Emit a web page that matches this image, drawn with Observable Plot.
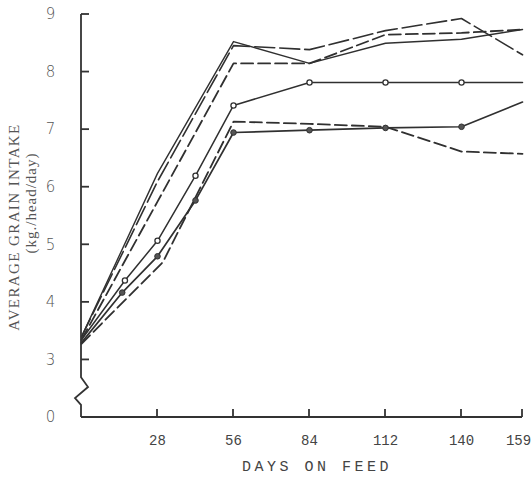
<!DOCTYPE html>
<html>
<head>
<meta charset="utf-8">
<script src="https://cdn.jsdelivr.net/npm/d3@7"></script>
<script src="https://cdn.jsdelivr.net/npm/@observablehq/plot@0.6"></script>
<style>
  html, body { margin: 0; padding: 0; background: #fff; }
  #chart { width: 532px; height: 481px; }
</style>
</head>
<body>
<div id="chart"></div>
<script>
// ---- data ----
const xTicks = [28, 56, 84, 112, 140, 159];
const yTicks = [2, 3, 4, 5, 6, 7, 8, 9];        // 2 is drawn as the broken-axis "0"
const yTickLabels = ["0", "3", "4", "5", "6", "7", "8", "9"];

const daysA   = [0, 16, 28, 42, 56, 84, 112, 140, 159];
const valuesA = [3.35, 4.38, 5.07, 6.20, 7.42, 7.82, 7.82, 7.82, 7.82];   // solid, open circles

const daysB   = [0, 15, 28, 42, 56, 84, 112, 140, 159];
const valuesB = [3.30, 4.17, 4.80, 5.77, 6.95, 6.99, 7.03, 7.05, 7.48];   // solid, filled circles

const daysC   = [0, 30, 56, 84, 112, 140, 159];
const valuesC = [3.28, 4.70, 7.14, 7.10, 7.05, 6.62, 6.58];               // dashed (lower)

const daysD   = [0, 28, 56, 84, 112, 140, 159];
const valuesD = [3.40, 6.24, 8.53, 8.15, 8.50, 8.57, 8.74];               // solid (upper)

const daysE   = [0, 28, 56, 84, 112, 140, 159];
const valuesE = [3.35, 5.75, 8.15, 8.15, 8.65, 8.68, 8.74];               // dashed (upper)

const daysF   = [0, 28, 56, 84, 112, 140, 159];
const valuesF = [3.40, 6.10, 8.46, 8.39, 8.72, 8.93, 8.30];               // long dash (top)

const xLabel = "DAYS ON FEED";
const yLabel1 = "AVERAGE GRAIN INTAKE";
const yLabel2 = "(kg./head/day)";

// ---- build tables ----
const toRows = (days, vals) => days.map((d, i) => ({day: d, value: vals[i]}));
const A = toRows(daysA, valuesA), B = toRows(daysB, valuesB), C = toRows(daysC, valuesC);
const D = toRows(daysD, valuesD), E = toRows(daysE, valuesE), F = toRows(daysF, valuesF);
const inner = r => r.day > 0 && r.day < 159;
const lastTick = xTicks[xTicks.length - 1];

const ink = "#303030";
const W = 532, H = 481;
const mL = 81, mR = 10, mT = 14, mB = 64;

const chart = Plot.plot({
  width: W, height: H,
  marginLeft: mL, marginRight: mR, marginTop: mT, marginBottom: mB,
  x: {type: "linear", domain: [0, 140, 159], range: [mL, 461, W - mR], axis: null},
  y: {type: "linear", domain: [2, 9], axis: null},
  style: {background: "#fff", color: "#444"},
  marks: [
    Plot.line(D, {x: "day", y: "value", stroke: ink, strokeWidth: 1.4}),
    Plot.line(F, {x: "day", y: "value", stroke: ink, strokeWidth: 1.6, strokeDasharray: "20,5"}),
    Plot.line(E, {x: "day", y: "value", stroke: ink, strokeWidth: 1.8, strokeDasharray: "12,5"}),
    Plot.line(A, {x: "day", y: "value", stroke: ink, strokeWidth: 1.5}),
    Plot.line(B, {x: "day", y: "value", stroke: ink, strokeWidth: 1.7}),
    Plot.line(C, {x: "day", y: "value", stroke: ink, strokeWidth: 1.8, strokeDasharray: "12,5"}),
    Plot.dot(A.filter(inner), {x: "day", y: "value", r: 2.6, fill: "#fff", stroke: ink, strokeWidth: 1.3}),
    Plot.dot(B.filter(inner), {x: "day", y: "value", r: 2.8, fill: "#555", stroke: ink, strokeWidth: 1}),
    // y tick labels
    Plot.text(yTicks, {x: 0, y: d => d, text: (d, i) => yTickLabels[i], dx: -31,
      textAnchor: "middle", fontSize: 15, fontFamily: "DejaVu Sans", fontWeight: 300, fill: "#555"}),
    // x tick labels
    Plot.text(xTicks.filter(t => t !== lastTick), {x: d => d, y: 2, text: d => String(d), dy: 23,
      textAnchor: "middle", fontSize: 14, fontFamily: "Liberation Mono", fill: "#444"}),
    Plot.text([lastTick], {x: d => d, y: 2, text: d => String(d), dy: 23, dx: -4,
      textAnchor: "middle", fontSize: 14, fontFamily: "Liberation Mono", fill: "#444"})
  ]
});

document.getElementById("chart").appendChild(chart);

// ---- axis lines, inward ticks and broken-axis zigzag, using Plot's scales ----
const xs = chart.scale("x"), ys = chart.scale("y");
const sx = xs.apply ? (v => xs.apply(v)) : d3.scaleLinear(xs.domain, xs.range);
const sy = ys.apply ? (v => ys.apply(v)) : d3.scaleLinear(ys.domain, ys.range);
const svg = d3.select(chart.tagName.toLowerCase() === "svg" ? chart : chart.querySelector("svg"));
const g = svg.append("g").attr("fill", "none").attr("stroke", "#333").attr("stroke-width", 1.8);

const x0 = sx(0);
g.append("path").attr("d",
  `M${x0},${sy(9)} L${x0},${sy(2.69)} L${x0 + 7},${sy(2.52)} L${x0 - 6},${sy(2.33)} L${x0},${sy(2.21)} L${x0},${sy(2)}`);
g.append("path").attr("d", `M${x0},${sy(2)} L${sx(159)},${sy(2)}`);
for (const t of yTicks.slice(1)) {
  g.append("line").attr("x1", x0).attr("x2", x0 + 8).attr("y1", sy(t)).attr("y2", sy(t));
}
for (const t of xTicks) {
  g.append("line").attr("x1", sx(t)).attr("x2", sx(t)).attr("y1", sy(2)).attr("y2", sy(2) - 8);
}

// axis titles
svg.append("text").attr("x", 317).attr("y", 471)
  .attr("text-anchor", "middle").attr("font-family", "Liberation Mono").attr("font-size", 15)
  .attr("letter-spacing", 3.5).attr("fill", "#444").text(xLabel);
svg.append("text").attr("transform", "translate(19,227) rotate(-90)")
  .attr("text-anchor", "middle").attr("font-family", "Liberation Serif").attr("font-size", 15)
  .attr("letter-spacing", 1.4).attr("fill", "#555").text(yLabel1);
svg.append("text").attr("transform", "translate(36,203) rotate(-90)")
  .attr("text-anchor", "middle").attr("font-family", "Liberation Serif").attr("font-size", 15)
  .attr("letter-spacing", 1).attr("fill", "#555").text(yLabel2);
</script>
</body>
</html>
